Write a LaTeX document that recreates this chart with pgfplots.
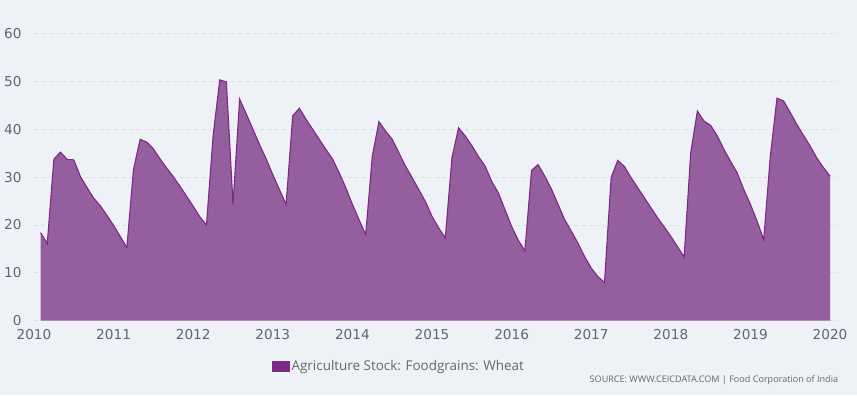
\documentclass[border=0pt]{standalone}
\usepackage{pgfplots}
\pgfplotsset{compat=1.18}
\usepackage{pgfplotstable}
\usepackage{fontspec}
\setmainfont{Open Sans}
\newfontfamily\tickfont{DejaVu Sans}
\definecolor{bg}{HTML}{EEF2F7}
\definecolor{areafill}{HTML}{955E9E}
\definecolor{arealine}{HTML}{7B2A85}
\definecolor{legsq}{HTML}{7B2A86}
\definecolor{tickcol}{HTML}{5F6670}
\definecolor{gridcol}{HTML}{DCDFE3}
\definecolor{legtext}{HTML}{666666}
\pgfplotstableread{
k v
1 18.4
2 16.1
3 33.8
4 35.2
5 33.7
6 33.6
7 30.1
8 27.8
9 25.6
10 24.0
11 22.0
12 19.9
13 17.6
14 15.3
15 31.6
16 37.9
17 37.3
18 35.9
19 33.8
20 31.9
21 30.1
22 28.1
23 26.0
24 23.9
25 21.7
26 20.0
27 38.6
28 50.3
29 49.9
30 24.3
31 46.3
32 43.2
33 40.0
34 36.8
35 33.8
36 30.5
37 27.4
38 24.3
39 42.8
40 44.4
41 42.1
42 40.0
43 37.9
44 35.8
45 33.8
46 30.9
47 27.8
48 24.3
49 21.1
50 18.0
51 34.4
52 41.6
53 39.6
54 37.9
55 35.1
56 32.3
57 29.9
58 27.4
59 24.9
60 21.8
61 19.4
62 17.3
63 34.0
64 40.3
65 38.6
66 36.6
67 34.3
68 32.3
69 29.1
70 26.7
71 23.2
72 19.7
73 16.8
74 14.6
75 31.4
76 32.6
77 30.2
78 27.5
79 24.3
80 21.1
81 18.7
82 16.2
83 13.4
84 11.0
85 9.2
86 8.0
87 29.9
88 33.5
89 32.2
90 29.9
91 27.8
92 25.7
93 23.6
94 21.5
95 19.6
96 17.6
97 15.5
98 13.3
99 35.1
100 43.8
101 41.7
102 40.8
103 38.6
104 35.8
105 33.3
106 30.9
107 27.4
108 24.3
109 20.8
110 16.9
111 34.4
112 46.5
113 45.9
114 43.5
115 41.0
116 38.7
117 36.5
118 34.0
119 32.0
120 30.2
}\wheat
\begin{document}
\begin{tikzpicture}[x=1bp,y=1bp]
\fill[bg] (0,0) rectangle (857,395);
\begin{axis}[
  at={(34bp,74.3bp)}, anchor=south west,
  scale only axis,
  width=804bp, height=287.2bp,
  xmin=0, xmax=121.2,
  ymin=0, ymax=60,
  axis line style={draw=none},
  axis background/.style={fill=bg},
  xtick={0,12,24,36,48,60,72,84,96,108,120},
  xticklabels={2010,2011,2012,2013,2014,2015,2016,2017,2018,2019,2020},
  ytick={0,10,20,30,40,50,60},
  major tick length=0pt,
  ymajorgrids,
  grid style={gridcol, line width=0.8pt, dash pattern=on 4bp off 3.3bp},
  tick label style={font=\tickfont\fontsize{13.7}{14}\selectfont, text=tickcol},
  /pgf/number format/assume math mode=true,
  xticklabel style={anchor=center, yshift=-14bp},
  yticklabel style={anchor=east, xshift=-9bp},
  clip=false,
  legend style={at={(axis description cs:0.4538,-0.158)}, anchor=center,
    draw=none, fill=none, font=\fontsize{13.5}{15}\selectfont\color{legtext},
    legend cell align=left},
]
\addplot[fill=areafill, draw=none, forget plot] table[x=k,y=v]{\wheat} \closedcycle;
\addplot[arealine, line width=1.1pt,
  legend image code/.code={\fill[legsq] (0bp,-5bp) rectangle (16.7bp,5bp);}]
  table[x=k,y=v]{\wheat};
\addlegendentry{Agriculture Stock: Foodgrains: Wheat}
\end{axis}
\node[anchor=base east, font=\fontsize{9.1}{11}\selectfont, text=legtext] at (841.6,12.3) {SOURCE: WWW.CEICDATA.COM | Food Corporation of India};
\end{tikzpicture}
\end{document}
